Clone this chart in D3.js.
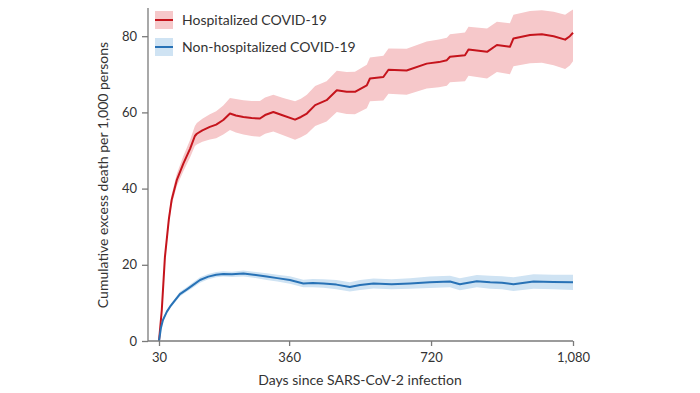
<!DOCTYPE html>
<html>
<head>
<meta charset="utf-8">
<script src="https://cdn.jsdelivr.net/npm/d3@7"></script>
<style>
  body { margin: 0; background: #fff; }
  svg { display: block; font-family: Lato, "Open Sans", sans-serif; }
</style>
</head>
<body>
<svg width="700" height="393"></svg>
<script>
// hospitalized COVID-19
var hospDays = [30, 37, 45, 55, 62, 75, 92, 109, 121, 126, 140, 159, 175, 193, 210, 225, 244, 265, 286, 299, 320, 345, 375, 390, 405, 426, 455, 481, 506, 527, 557, 565, 599, 612, 658, 709, 740, 760, 768, 806, 815, 862, 887, 920, 929, 971, 1001, 1031, 1060, 1072, 1080];
var hospVal = [0, 8, 22, 32, 37, 42.2, 46.6, 50.5, 53.8, 54.4, 55.3, 56.2, 56.8, 58.0, 59.7, 59.2, 58.8, 58.5, 58.4, 59.3, 60.1, 59.2, 58.1, 58.8, 59.7, 61.9, 63.2, 65.8, 65.4, 65.4, 67.1, 68.9, 69.3, 71.2, 71.0, 72.8, 73.2, 73.7, 74.6, 75.0, 76.5, 75.9, 77.7, 77.2, 79.4, 80.3, 80.5, 80.0, 79.1, 80.0, 80.9];
var hospLo = [0, 7.5, 21, 30.8, 35.6, 40.6, 44.6, 48.2, 51.2, 51.6, 52.3, 52.9, 53.2, 54.2, 55.4, 54.7, 54.2, 53.8, 53.6, 54.4, 55.0, 54.0, 52.8, 53.5, 54.3, 56.4, 57.6, 60.1, 59.6, 59.5, 61.1, 62.9, 63.1, 64.9, 64.6, 66.3, 66.6, 67.0, 67.9, 68.2, 69.6, 68.9, 70.6, 70.0, 72.1, 72.9, 73.0, 72.4, 71.4, 72.3, 73.4];
var hospHi = [0, 8.5, 23, 33.2, 38.4, 43.8, 48.6, 52.8, 56.4, 57.2, 58.3, 59.5, 60.3, 61.8, 63.8, 63.5, 63.2, 63.0, 63.0, 63.9, 64.6, 63.8, 62.9, 63.6, 64.6, 66.9, 68.2, 70.9, 70.6, 70.7, 72.5, 74.4, 74.9, 76.8, 76.7, 78.6, 79.1, 79.6, 80.5, 81.0, 82.5, 82.0, 83.8, 83.4, 85.6, 86.6, 86.8, 86.4, 85.6, 86.5, 87.0];

// non-hospitalized COVID-19
var nonDays = [30, 35, 40, 50, 60, 70, 83, 100, 115, 134, 155, 175, 193, 215, 244, 270, 303, 330, 362, 396, 420, 447, 480, 514, 540, 574, 620, 667, 717, 768, 793, 836, 870, 900, 929, 980, 1030, 1080];
var nonVal = [0, 3.5, 5.5, 7.7, 9.3, 10.6, 12.3, 13.5, 14.6, 16.0, 16.9, 17.4, 17.6, 17.5, 17.7, 17.4, 16.9, 16.5, 16.0, 15.1, 15.2, 15.1, 14.8, 14.2, 14.7, 15.1, 14.9, 15.1, 15.4, 15.6, 14.9, 15.7, 15.4, 15.3, 14.9, 15.6, 15.5, 15.4];
var nonLo = [0, 3.2, 5.1, 7.3, 8.8, 10.1, 11.7, 12.9, 13.9, 15.3, 16.2, 16.7, 16.9, 16.8, 16.9, 16.6, 16.0, 15.6, 15.0, 14.1, 14.1, 14.0, 13.6, 13.0, 13.4, 13.8, 13.6, 13.7, 13.9, 14.1, 13.3, 14.1, 13.7, 13.6, 13.1, 13.7, 13.6, 13.4];
var nonHi = [0, 3.8, 5.9, 8.1, 9.8, 11.1, 12.9, 14.1, 15.3, 16.7, 17.6, 18.1, 18.3, 18.2, 18.5, 18.2, 17.8, 17.4, 17.0, 16.1, 16.3, 16.2, 16.0, 15.4, 16.0, 16.4, 16.2, 16.5, 16.9, 17.1, 16.5, 17.3, 17.1, 17.0, 16.7, 17.5, 17.4, 17.4];

var xTicks = [30, 360, 720, 1080];
var yTicks = [0, 20, 40, 60, 80];
var legendLabels = ["Hospitalized COVID-19", "Non-hospitalized COVID-19"];

var svg = d3.select("svg");

var x = d3.scaleLinear().domain([30, 1080]).range([159, 573]),
    y = d3.scaleLinear().domain([0, 87.4]).range([341, 8]);

var series = [
  { days: hospDays, val: hospVal, lo: hospLo, hi: hospHi, line: "#c5141c", band: "#f6c8ca" },
  { days: nonDays, val: nonVal, lo: nonLo, hi: nonHi, line: "#2872b6", band: "#cfe3f3" }
];

var area = d3.area()
    .x(function(d) { return x(d.day); })
    .y0(function(d) { return y(d.lo); })
    .y1(function(d) { return y(d.hi); });

var line = d3.line()
    .x(function(d) { return x(d.day); })
    .y(function(d) { return y(d.val); });

series.forEach(function(s) {
  s.points = s.days.map(function(d, i) {
    return { day: d, val: s.val[i], lo: s.lo[i], hi: s.hi[i] };
  });
});

svg.selectAll(".band")
  .data(series)
  .enter().append("path")
    .attr("class", "band")
    .attr("d", function(s) { return area(s.points); })
    .attr("fill", function(s) { return s.band; });

svg.selectAll(".line")
  .data(series)
  .enter().append("path")
    .attr("class", "line")
    .attr("d", function(s) { return line(s.points); })
    .attr("fill", "none")
    .attr("stroke", function(s) { return s.line; })
    .attr("stroke-width", 2)
    .attr("stroke-linejoin", "round");

// axes
var axisColor = "#7a7a7a", textColor = "#333";

var yAxis = svg.append("g")
    .attr("transform", "translate(148,0)")
    .call(d3.axisLeft(y).tickValues(yTicks).tickSize(6).tickPadding(5));
yAxis.select(".domain").remove();
yAxis.append("line")
    .attr("x1", 0).attr("x2", 0)
    .attr("y1", y(87.4)).attr("y2", y(0))
    .attr("stroke", axisColor).attr("stroke-width", 1.3);

var xAxis = svg.append("g")
    .attr("transform", "translate(0,341)")
    .call(d3.axisBottom(x).tickValues(xTicks).tickSize(5).tickPadding(7)
      .tickFormat(d3.format(",")));
xAxis.select(".domain").remove();
xAxis.append("line")
    .attr("x1", 148).attr("x2", x(1080))
    .attr("stroke", axisColor).attr("stroke-width", 1.3);

svg.selectAll(".tick line").attr("stroke", axisColor).attr("stroke-width", 1.3);
svg.selectAll(".tick text")
    .attr("fill", textColor)
    .style("font-size", "13px")
    .style("font-family", "Lato, sans-serif");

svg.append("text")
    .attr("transform", "translate(108,175) rotate(-90)")
    .attr("text-anchor", "middle")
    .attr("fill", textColor)
    .style("font-size", "14px")
    .text("Cumulative excess death per 1,000 persons");

svg.append("text")
    .attr("x", 360)
    .attr("y", 385)
    .attr("text-anchor", "middle")
    .attr("fill", textColor)
    .style("font-size", "14px")
    .text("Days since SARS-CoV-2 infection");

// legend
var legend = svg.selectAll(".legend")
  .data(series)
  .enter().append("g")
    .attr("class", "legend")
    .attr("transform", function(d, i) { return "translate(155," + (11 + i * 27) + ")"; });

legend.append("rect")
    .attr("width", 18).attr("height", 18)
    .attr("fill", function(s) { return s.band; });

legend.append("line")
    .attr("x1", 0).attr("x2", 18)
    .attr("y1", 9).attr("y2", 9)
    .attr("stroke", function(s) { return s.line; })
    .attr("stroke-width", 2);

legend.append("text")
    .attr("x", 27)
    .attr("y", 9)
    .attr("dy", "0.35em")
    .attr("fill", textColor)
    .style("font-size", "14px")
    .text(function(d, i) { return legendLabels[i]; });
</script>
</body>
</html>
